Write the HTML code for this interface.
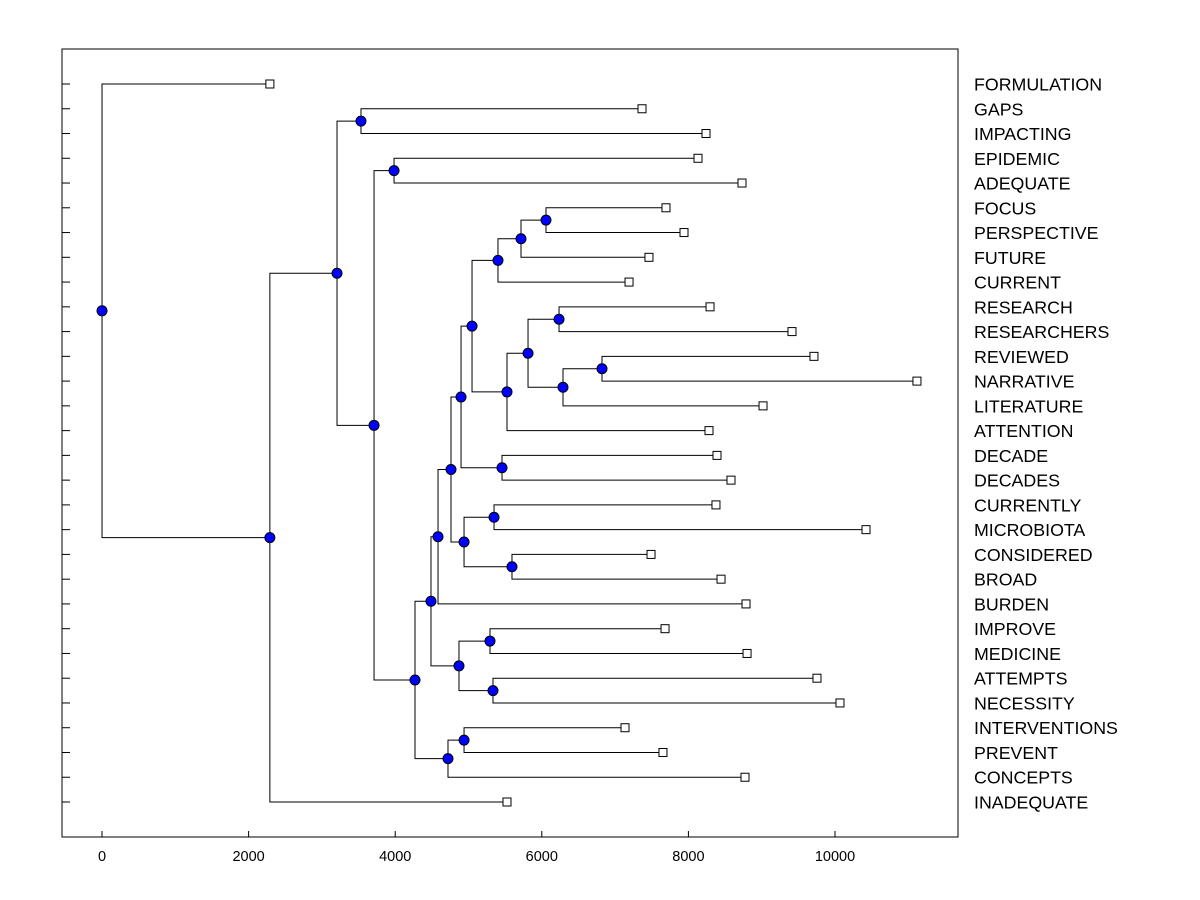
<!DOCTYPE html>
<html><head><meta charset="utf-8"><style>
body{margin:0;background:#fff}
svg{display:block}
text{font-family:"Liberation Sans",Arial,sans-serif}
</style></head><body>
<svg id="chart" width="1200" height="900" xmlns="http://www.w3.org/2000/svg">
<rect x="62" y="49" width="896" height="788" fill="#fff" stroke="#000" stroke-width="1"/>
<g id="g"></g>
</svg>
<script>
const leafLabels=["FORMULATION","GAPS","IMPACTING","EPIDEMIC","ADEQUATE","FOCUS","PERSPECTIVE","FUTURE","CURRENT","RESEARCH","RESEARCHERS","REVIEWED","NARRATIVE","LITERATURE","ATTENTION","DECADE","DECADES","CURRENTLY","MICROBIOTA","CONSIDERED","BROAD","BURDEN","IMPROVE","MEDICINE","ATTEMPTS","NECESSITY","INTERVENTIONS","PREVENT","CONCEPTS","INADEQUATE"];
const leafValues=[2290,7367,8240,8131,8731,7694,7940,7462,7190,8295,9413,9713,11118,9018,8281,8390,8581,8376,10423,7490,8445,8786,7681,8800,9754,10068,7135,7653,8772,5525];
const mergeLeft=[5,30,31,9,11,34,33,36,32,15,38,17,19,41,40,44,22,24,46,45,26,50,49,3,53,1,55,56,0];
const mergeRight=[6,7,8,10,12,13,35,14,37,16,39,18,20,42,43,21,23,25,47,48,27,28,51,4,52,2,54,29,57];
const mergeHeights=[6057,5716,5402,6235,6821,6289,5812,5525,5048,5457,4898,5348,5593,4939,4761,4584,5293,5334,4870,4488,4939,4720,4270,3984,3711,3533,3206,2290,0];
const xTicks=[0,2000,4000,6000,8000,10000];

const NS="http://www.w3.org/2000/svg";
const g=document.getElementById('g');
const X0=-546,X1=11678,PL=62,PR=958;
const sx=v=>PL+(v-X0)/(X1-X0)*(PR-PL);
const sy=i=>84+i*(802-84)/(leafLabels.length-1);
function mk(t,a){const e=document.createElementNS(NS,t);for(const k in a)e.setAttribute(k,a[k]);g.appendChild(e);return e;}
const n=leafLabels.length;
const nx=[],ny=[];
for(let i=0;i<n;i++){nx[i]=sx(leafValues[i]);ny[i]=sy(i);}
for(let m=0;m<mergeHeights.length;m++){
  const id=n+m,a=mergeLeft[m],b=mergeRight[m];
  nx[id]=sx(mergeHeights[m]);ny[id]=(ny[a]+ny[b])/2;
}
for(let i=0;i<n;i++){
  const t=mk('line',{x1:62,x2:70,y1:sy(i),y2:sy(i),stroke:'#000'});
  
  
  const l=mk('text',{x:974,y:sy(i)+6.5,'font-size':17.8});
  l.textContent=leafLabels[i];
  
  
}
xTicks.forEach(v=>{
  const t=mk('line',{x1:sx(v),x2:sx(v),y1:837,y2:831,stroke:'#000'});
  
  
  const l=mk('text',{x:sx(v),y:861,'font-size':14.5,'text-anchor':'middle'});
  l.textContent=v;
  
  
});
for(let m=0;m<mergeHeights.length;m++){
  const id=n+m,x=nx[id];
  [mergeLeft[m],mergeRight[m]].forEach(c=>{
    const p=mk('polyline',{points:`${x},${ny[id]} ${x},${ny[c]} ${nx[c]},${ny[c]}`,fill:'none',stroke:'#000','stroke-width':1});
    
    
  });
}
for(let i=0;i<n;i++){
  const r=mk('rect',{x:nx[i]-4,y:ny[i]-4,width:8,height:8,fill:'#fff',stroke:'#000'});
  
  
}
for(let m=0;m<mergeHeights.length;m++){
  const id=n+m;
  const c=mk('circle',{cx:nx[id],cy:ny[id],r:5,fill:'#0000ff',stroke:'#000'});
  
  
}
</script>
</body></html>
